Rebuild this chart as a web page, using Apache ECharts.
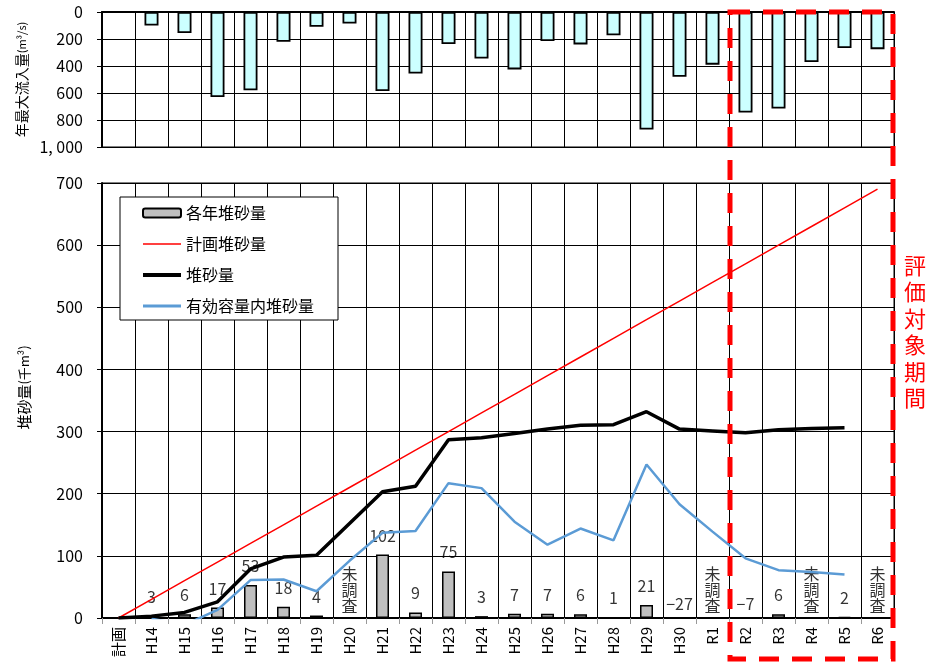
<!DOCTYPE html>
<html>
<head>
<meta charset="utf-8">
<script src="https://cdn.jsdelivr.net/npm/echarts@6/dist/echarts.min.js"></script>
<style>
html,body{margin:0;padding:0;background:#fff;}
#main{width:929px;height:664px;}
</style>
</head>
<body>
<div id="main"></div>
<script>
// ---- data ----
const categories = ['計画','H14','H15','H16','H17','H18','H19','H20','H21','H22','H23','H24','H25','H26','H27','H28','H29','H30','R1','R2','R3','R4','R5','R6'];
// 年最大流入量 (m3/s)
const inflow = [null,100,155,630,580,220,110,85,585,455,237,344,425,215,240,172,870,480,390,745,715,370,267,275];
// 各年堆砂量 (千m3); null = 未調査 / none
const annualSed = [null,3,6,17,53,18,4,null,102,9,75,3,7,7,6,1,21,-27,null,-7,6,null,2,null];
// 計画堆砂量
const planSed = [0,30,60,90,120,150,180,210,240,270,300,330,360,390,420,450,480,510,540,570,600,630,660,690];
// 堆砂量
const cumSed = [0,3,9,26,79,98,101,152,203,212,287,290,297,304,310,311,332,304,301,298,303,305,306,null];
// 有効容量内堆砂量
const effSed = [null,-1,-11,13,61,62,43,92,137,140,217,209,155,118,144,125,247,183,139,96,77,74,70,null];
// 未調査 markers
const notSurveyed = ['H20','R1','R4','R6'];
const inflowTicks = [0,200,400,600,800,1000];
const sedTicks = [0,100,200,300,400,500,600,700];

const FONT = "'Noto Sans CJK JP','Noto Sans',sans-serif";
const chart = echarts.init(document.getElementById('main'), null, {renderer:'canvas'});

const labelData = [];
categories.forEach((c,i)=>{
  if (notSurveyed.indexOf(c) >= 0) {
    labelData.push({value:[c,0], kind:'ns', label:{distance:4}});
    return;
  }
  const v = annualSed[i];
  if (v === null || v === undefined) return;
  labelData.push({value:[c, Math.max(v,0)], kind:'num', raw:v, label:{distance: v<0 ? 6 : 11}});
});

const lineIcon = w => 'path://M0,0L38,0L38,' + w + 'L0,' + w + 'Z';

const option = {
  animation:false,
  backgroundColor:'#fff',
  textStyle:{fontFamily:FONT, color:'#000'},
  grid:[
    {left:102,right:35,top:12,height:135,show:true,borderColor:'#000',borderWidth:1},
    {left:102,right:35,top:183,height:435,show:true,borderColor:'#000',borderWidth:1}
  ],
  legend:{
    left:120, top:197,
    orient:'vertical',
    backgroundColor:'#fff',
    borderColor:'#000', borderWidth:1,
    padding:[8,24,6,22],
    itemWidth:38, itemHeight:9, itemGap:15,
    symbolKeepAspect:true,
    textStyle:{fontSize:16, color:'#000', fontFamily:FONT, lineHeight:16},
    data:[
      {name:'各年堆砂量'},
      {name:'計画堆砂量', icon:lineIcon(1.5)},
      {name:'堆砂量', icon:lineIcon(4)},
      {name:'有効容量内堆砂量', icon:lineIcon(3)}
    ]
  },
  xAxis:[
    {gridIndex:0,type:'category',data:categories,position:'top',
     axisLine:{lineStyle:{color:'#000',width:2}},axisTick:{show:false},axisLabel:{show:false},
     splitLine:{show:true,interval:0,lineStyle:{color:'#000',width:1}}},
    {gridIndex:1,type:'category',data:categories,
     axisLine:{lineStyle:{color:'#000',width:2}},
     axisTick:{show:true,interval:0,length:6,lineStyle:{color:'#999'}},
     axisLabel:{interval:0,rotate:90,fontSize:15,color:'#000',margin:9,fontFamily:FONT},
     splitLine:{show:true,interval:0,lineStyle:{color:'#000',width:1}}}
  ],
  yAxis:[
    {gridIndex:0,type:'value',inverse:true,min:inflowTicks[0],max:inflowTicks[inflowTicks.length-1],interval:200,
     name:'{a|年最大流入量}{b|(m³/s)}',nameLocation:'middle',nameGap:70,
     nameTextStyle:{rich:{a:{fontSize:14,color:'#000',fontFamily:FONT},b:{fontSize:11,color:'#000',fontFamily:FONT}}},
     axisLine:{show:true,lineStyle:{color:'#000',width:2}},
     axisTick:{show:true,length:5,lineStyle:{color:'#000'}},
     axisLabel:{fontSize:16,color:'#000',margin:19,fontFamily:FONT,formatter:v=> v>=1000 ? '1, 000' : String(v)},
     splitLine:{show:true,lineStyle:{color:'#000',width:1}}},
    {gridIndex:1,type:'value',min:sedTicks[0],max:sedTicks[sedTicks.length-1],interval:100,
     name:'{a|堆砂量}{b|(千m³)}',nameLocation:'middle',nameGap:70,
     nameTextStyle:{padding:[0,0,0,26],rich:{a:{fontSize:15,color:'#000',fontFamily:FONT},b:{fontSize:13,color:'#000',fontFamily:FONT}}},
     axisLine:{show:true,lineStyle:{color:'#000',width:2}},
     axisTick:{show:true,length:5,lineStyle:{color:'#000'}},
     axisLabel:{fontSize:16,color:'#000',margin:19,fontFamily:FONT},
     splitLine:{show:true,lineStyle:{color:'#000',width:1}}}
  ],
  series:[
    {name:'年最大流入量',type:'bar',xAxisIndex:0,yAxisIndex:0,data:inflow,barWidth:14,
     itemStyle:{color:'#ccffff',borderColor:'#000',borderWidth:1.8},z:3},
    {name:'各年堆砂量',type:'bar',xAxisIndex:1,yAxisIndex:1,data:annualSed,barWidth:13,clip:true,
     itemStyle:{color:'#bfbfbf',borderColor:'#000',borderWidth:1.5},z:2},
    {name:'annotations',type:'scatter',xAxisIndex:1,yAxisIndex:1,symbolSize:0,silent:true,z:2,
     data:labelData,
     label:{show:true,position:'top',distance:6,fontSize:16,color:'#000',fontFamily:FONT,lineHeight:16,
       formatter:p=>{
         const d=p.data;
         if(d.kind==='ns') return '未\n調\n査';
         return d.raw<0 ? '\u2212'+Math.abs(d.raw) : String(d.raw);
       }}},
    {name:'計画堆砂量',type:'line',xAxisIndex:1,yAxisIndex:1,data:planSed,symbol:'none',
     lineStyle:{color:'#ff0000',width:1.5},itemStyle:{color:'#ff0000'},z:4},
    {name:'堆砂量',type:'line',xAxisIndex:1,yAxisIndex:1,data:cumSed,symbol:'none',
     lineStyle:{color:'#000',width:3.5},itemStyle:{color:'#000'},z:5},
    {name:'有効容量内堆砂量',type:'line',xAxisIndex:1,yAxisIndex:1,data:effSed,symbol:'none',clip:true,
     lineStyle:{color:'#5b9bd5',width:2.5},itemStyle:{color:'#5b9bd5'},z:4}
  ]
};
chart.setOption(option);

// evaluation period box
const xR2 = chart.convertToPixel({xAxisIndex:1}, 'R2');
const xR3 = chart.convertToPixel({xAxisIndex:1}, 'R3');
const band = xR3 - xR2;
const boxLeft = xR2 - band/2 + 1;
const xR6 = chart.convertToPixel({xAxisIndex:1}, 'R6');
const boxRight = xR6 + band/2 - 1;
const boxTop = 12;
const boxBottom = 659;
chart.setOption({
  graphic:[
    {type:'rect',z:100,shape:{x:boxLeft,y:boxTop,width:boxRight-boxLeft,height:boxBottom-boxTop},
     style:{fill:null,stroke:'#ff0000',lineWidth:5,lineDash:[20,13]}},
    {type:'text',z:100,left:904,top:252,
     style:{text:'評\n価\n対\n象\n期\n間',fill:'#ff0000',fontSize:22,lineHeight:26.5,fontFamily:FONT}}
  ]
});
</script>
</body>
</html>
